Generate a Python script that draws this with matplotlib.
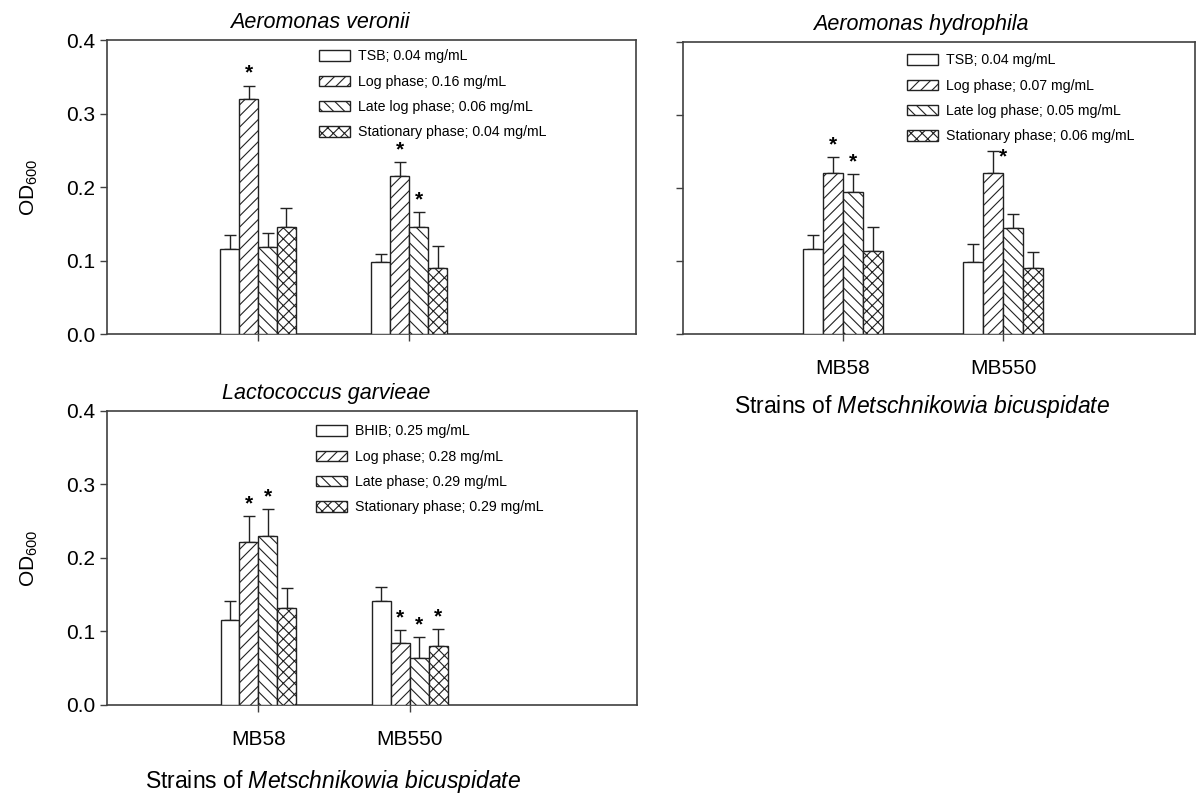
import matplotlib
matplotlib.use('Agg')
import matplotlib.pyplot as plt
import numpy as np

plt.rcParams['font.family'] = ['Liberation Sans', 'DejaVu Sans']
plt.rcParams['mathtext.fontset'] = 'custom'
plt.rcParams['mathtext.rm'] = 'Liberation Sans'
plt.rcParams['mathtext.it'] = 'Liberation Sans:italic'
plt.rcParams['hatch.linewidth'] = 0.8

groups = ['MB58', 'MB550']
hatches = ['', '///', '\\\\\\', 'xxx']

# Aeromonas veronii
av_labels = ['TSB; 0.04 mg/mL', 'Log phase; 0.16 mg/mL',
             'Late log phase; 0.06 mg/mL', 'Stationary phase; 0.04 mg/mL']
av_mean = [[0.116, 0.320, 0.118, 0.145], [0.098, 0.215, 0.145, 0.090]]
av_err = [[0.019, 0.018, 0.019, 0.026], [0.011, 0.019, 0.021, 0.030]]
# 1 = star above the error bar, 2 = star beside it
av_sig = [[0, 1, 0, 0], [0, 1, 1, 0]]

# Aeromonas hydrophila
ah_labels = ['TSB; 0.04 mg/mL', 'Log phase; 0.07 mg/mL',
             'Late log phase; 0.05 mg/mL', 'Stationary phase; 0.06 mg/mL']
ah_mean = [[0.116, 0.220, 0.194, 0.114], [0.099, 0.220, 0.145, 0.091]]
ah_err = [[0.019, 0.022, 0.025, 0.032], [0.024, 0.031, 0.019, 0.021]]
ah_sig = [[0, 1, 1, 0], [0, 2, 0, 0]]

# Lactococcus garvieae
lg_labels = ['BHIB; 0.25 mg/mL', 'Log phase; 0.28 mg/mL',
             'Late phase; 0.29 mg/mL', 'Stationary phase; 0.29 mg/mL']
lg_mean = [[0.116, 0.222, 0.230, 0.132], [0.141, 0.085, 0.064, 0.080]]
lg_err = [[0.025, 0.035, 0.036, 0.027], [0.019, 0.017, 0.028, 0.023]]
lg_sig = [[0, 1, 1, 0], [0, 1, 1, 1]]

EDGE = '#222222'
SPINE = '#404040'
XLABEL = 'Strains of $\\it{Metschnikowia\\ bicuspidate}$'


def draw_panel(ax, title, title_x, labels, mean, err, sig, xmax, leg_anchor,
               show_ylab, show_xlab, show_xticklabels, xlab_x, xlab_pad=10):
    w = 0.125
    xc = np.arange(1, len(groups) + 1)
    mean = np.array(mean)
    err = np.array(err)
    for i in range(4):
        x = xc + (i - 1.5) * w
        ax.bar(x, mean[:, i], width=w, color='white', edgecolor=EDGE,
               hatch=hatches[i], linewidth=1.0, label=labels[i], zorder=3)
        ax.errorbar(x, mean[:, i], yerr=[np.zeros(len(groups)), err[:, i]],
                    fmt='none', ecolor=EDGE, elinewidth=1.0, capsize=4,
                    capthick=1.0, zorder=2)
        for g in range(len(groups)):
            top = mean[g, i] + err[g, i]
            if sig[g][i] == 1:
                ax.text(x[g], top + 0.004, '*', ha='center', va='bottom',
                        fontsize=15, fontweight='bold', zorder=4)
            elif sig[g][i] == 2:
                ax.text(x[g] + w / 2, top - 0.022, '*', ha='center',
                        va='bottom', fontsize=15, fontweight='bold', zorder=4)
    ax.set_xlim(0, xmax)
    ax.set_ylim(0, 0.4)
    ax.set_yticks([0.0, 0.1, 0.2, 0.3, 0.4])
    ax.set_xticks(xc)
    if show_xticklabels:
        ax.set_xticklabels(groups)
    else:
        ax.set_xticklabels([])
    if show_ylab:
        ax.set_yticklabels(['0.0', '0.1', '0.2', '0.3', '0.4'])
        ax.set_ylabel('OD$_{600}$', fontsize=15, labelpad=19)
    else:
        ax.set_yticklabels([])
    if show_xlab:
        ax.set_xlabel(XLABEL, fontsize=16.5, labelpad=xlab_pad, x=xlab_x)
    ax.tick_params(axis='both', direction='out', length=5, width=1.0,
                   color=SPINE, labelsize=15)
    ax.tick_params(axis='x', pad=13)
    for s in ax.spines.values():
        s.set_color(SPINE)
        s.set_linewidth(1.2)
    ax.text(title_x, 1.025, title, transform=ax.transAxes, ha='center',
            va='bottom', fontsize=15.5, style='italic')
    ax.legend(loc='upper left', bbox_to_anchor=leg_anchor, frameon=False,
              fontsize=10.2, handlelength=2.2, handleheight=0.75,
              handletextpad=0.6, labelspacing=0.8, borderpad=0,
              borderaxespad=0)


fig = plt.figure(figsize=(11.98, 7.94), dpi=100)
ax1 = fig.add_axes([0.0893, 0.5793, 0.4416, 0.3703])
ax2 = fig.add_axes([0.5701, 0.5793, 0.4275, 0.3678])
ax3 = fig.add_axes([0.0893, 0.1121, 0.4424, 0.3703])

draw_panel(ax1, 'Aeromonas veronii', 0.403, av_labels, av_mean, av_err,
           av_sig, 3.5, (0.40, 0.968), True, False, False, 0.5)
draw_panel(ax2, 'Aeromonas hydrophila', 0.464, ah_labels, ah_mean, ah_err,
           ah_sig, 3.2, (0.437, 0.961), False, True, True, 0.466,
           xlab_pad=11)
draw_panel(ax3, 'Lactococcus garvieae', 0.413, lg_labels, lg_mean, lg_err,
           lg_sig, 3.5, (0.394, 0.954), True, True, True, 0.426,
           xlab_pad=14)

fig.savefig('out.png', dpi=100)
